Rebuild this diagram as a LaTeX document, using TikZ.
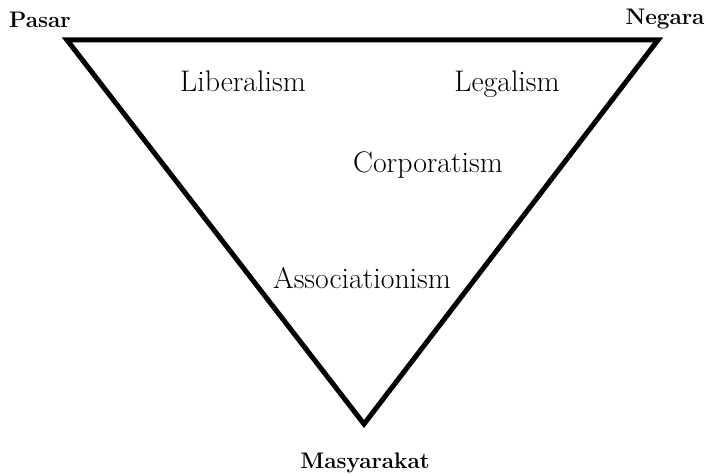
\documentclass[tikz,border=0pt]{standalone}
\begin{document}
\begin{tikzpicture}[x=1pt,y=-1pt,
  corner/.style={font=\fontsize{22.5}{25}\selectfont\bfseries, anchor=base, inner sep=0pt},
  ideology/.style={font=\fontsize{29.8}{33}\selectfont, anchor=base, inner sep=0pt},
  edge/.style={line width=5pt, line join=miter}]
\useasboundingbox (0,0) rectangle (706,476);
\coordinate (pv) at (67,40);
\coordinate (nv) at (658,40);
\coordinate (mv) at (364,424);
\draw[edge] (pv) -- (nv) -- (mv) -- cycle;
\node[corner] (pasar) at (40,28) {Pasar};
\node[corner] (negara) at (665,25) {Negara};
\node[corner] (masy) at (365,468) {Masyarakat};
\node[ideology] (lib) at (243,92) {Liberalism};
\node[ideology] (leg) at (507,92) {Legalism};
\node[ideology] (cor) at (428,172) {Corporatism};
\node[ideology] (ass) at (362,288) {Associationism};
\end{tikzpicture}
\end{document}
